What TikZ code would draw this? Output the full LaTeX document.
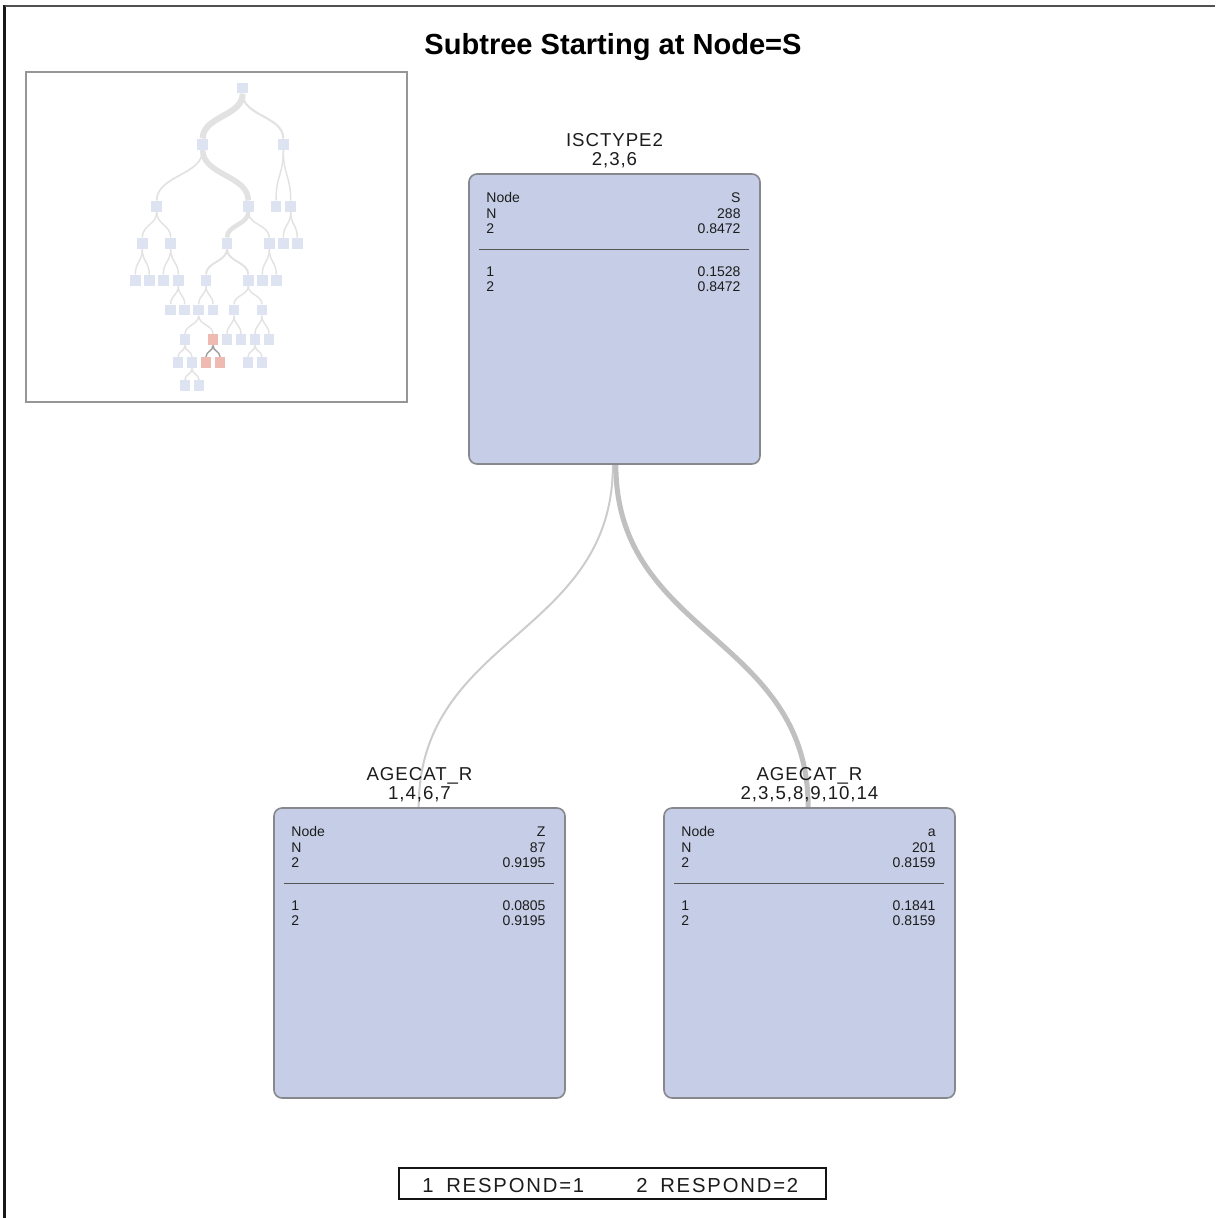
\documentclass[tikz,border=0pt]{standalone}
\usepackage{fontspec}
\setmainfont{Liberation Sans}
\newfontfamily\headfont[LetterSpace=5]{Liberation Sans}
\newfontfamily\keyfont[LetterSpace=9]{Liberation Sans}
\usetikzlibrary{calc,backgrounds}

\definecolor{boxfill}{RGB}{197,206,230}
\definecolor{boxedge}{RGB}{135,136,142}
\definecolor{linkgray}{RGB}{204,204,204}
\definecolor{linkdark}{RGB}{192,192,192}
\definecolor{minisq}{RGB}{221,227,241}
\definecolor{minired}{RGB}{238,186,178}
\definecolor{minilink}{RGB}{226,226,226}
\definecolor{minidark}{RGB}{160,160,160}
\definecolor{miniframe}{RGB}{150,150,152}
\definecolor{inktext}{RGB}{28,28,28}

\tikzset{
  x=0.75pt, y=-0.75pt,
  sbend/.style={to path={let \p1=(\tikztostart), \p2=(\tikztotarget) in
      .. controls (\x1,{0.5*(\y1+\y2)}) and (\x2,{0.5*(\y1+\y2)}) .. (\tikztotarget)}},
  treebox/.style={draw=boxedge, line width=1.2pt, fill=boxfill, rounded corners=6pt,
      minimum width=218.25pt, minimum height=217.5pt, inner sep=0pt},
  cellL/.style={anchor=base west, inner sep=0pt, text=inktext, font=\fontsize{10.5}{12}\selectfont},
  cellR/.style={anchor=base east, inner sep=0pt, text=inktext, font=\fontsize{10.5}{12}\selectfont},
  splitvar/.style={anchor=base, inner sep=0pt, text=inktext, font=\headfont\fontsize{14}{16}\selectfont},
  keytext/.style={anchor=base west, inner sep=0pt, text=inktext, font=\keyfont\fontsize{15.2}{18}\selectfont},
  rule/.style={draw={rgb,255:red,85;green,85;blue,85}, line width=0.8pt},
  mini/.style={fill=minisq, minimum size=8.2pt, inner sep=0pt},
  minihot/.style={fill=minired, minimum size=8.2pt, inner sep=0pt},
  minilinkstyle/.style={draw=minilink, line width=1.1pt, sbend},
}

% statistics table inside a tree box: #1 box, #2 node id, #3 N, #4 share of 2, #5 share of 1
\newcommand\statpanel[5]{%
  \node[cellL] (#1-k1) at ($(#1.north west)+(18,29.5)$) {Node};
  \node[cellL] (#1-k2) at ($(#1.north west)+(18,45)$) {N};
  \node[cellL] (#1-k3) at ($(#1.north west)+(18,60.5)$) {2};
  \node[cellR] (#1-v1) at ($(#1.north east)+(-20,29.5)$) {#2};
  \node[cellR] (#1-v2) at ($(#1.north east)+(-20,45)$) {#3};
  \node[cellR] (#1-v3) at ($(#1.north east)+(-20,60.5)$) {#4};
  \draw[rule] ($(#1.north west)+(11,76)$) -- ($(#1.north east)+(-12,76)$);
  \node[cellL] (#1-c1) at ($(#1.north west)+(18,103)$) {1};
  \node[cellL] (#1-c2) at ($(#1.north west)+(18,118.5)$) {2};
  \node[cellR] (#1-p1) at ($(#1.north east)+(-20,103)$) {#5};
  \node[cellR] (#1-p2) at ($(#1.north east)+(-20,118.5)$) {#4};
}

\begin{document}
\begin{tikzpicture}
\path[use as bounding box] (0,0) rectangle (1215,1218);

% page frame
\draw[line width=1.9pt, draw={rgb,255:red,25;green,25;blue,25}] (4.6,1218) -- (4.6,4.8);
\draw[line width=1.6pt, draw={rgb,255:red,80;green,80;blue,80}] (4.6,5.6) -- (1215,5.6);

% title
\node[anchor=base, inner sep=0pt, text=black, font=\bfseries\fontsize{21.8}{26}\selectfont]
  (title) at (613,54) {Subtree Starting at Node=S};

% overview of the whole tree
\draw[draw=miniframe, line width=1.4pt] (26,72) rectangle (407,402);

\node[mini] (m) at (242.7,88) {};
\node[mini] (ma) at (202.7,144.3) {};
\node[mini] (mb) at (283.3,144.3) {};
\node[mini] (maa) at (156.7,206.3) {};
\node[mini] (mab) at (248.3,206.3) {};
\node[mini] (mba) at (276,206.3) {};
\node[mini] (mbb) at (290.7,206.3) {};
\node[mini] (maaa) at (142.3,243.3) {};
\node[mini] (maab) at (170.7,243.3) {};
\node[mini] (maba) at (227,243.3) {};
\node[mini] (mabb) at (269.3,243.3) {};
\node[mini] (mbba) at (283.3,243.3) {};
\node[mini] (mbbb) at (297.3,243.3) {};
\node[mini] (maaaa) at (135.3,280.3) {};
\node[mini] (maaab) at (149.3,280.3) {};
\node[mini] (maaba) at (163.3,280.3) {};
\node[mini] (maabb) at (178.3,280.3) {};
\node[mini] (mabaa) at (206,280.3) {};
\node[mini] (mabab) at (248.3,280.3) {};
\node[mini] (mabba) at (262.3,280.3) {};
\node[mini] (mabbb) at (276.3,280.3) {};
\node[mini] (maabba) at (170.7,310) {};
\node[mini] (maabbb) at (184.7,310) {};
\node[mini] (mabaaa) at (198.7,310) {};
\node[mini] (mabaab) at (213,310) {};
\node[mini] (mababa) at (234,310) {};
\node[mini] (mababb) at (262,310) {};
\node[mini] (mabaaaa) at (185,339.7) {};
\node[minihot] (mabaaab) at (213,339.7) {};
\node[mini] (mababaa) at (227,339.7) {};
\node[mini] (mababab) at (241,339.7) {};
\node[mini] (mababba) at (255,339.7) {};
\node[mini] (mababbb) at (269,339.7) {};
\node[mini] (mabaaaaa) at (178,362.7) {};
\node[mini] (mabaaaab) at (192,362.7) {};
\node[minihot] (mabaaaba) at (206,362.7) {};
\node[minihot] (mabaaabb) at (220,362.7) {};
\node[mini] (mababbaa) at (248,362.7) {};
\node[mini] (mababbab) at (262,362.7) {};
\node[mini] (mabaaaaba) at (185,385.7) {};
\node[mini] (mabaaaabb) at (199,385.7) {};

\begin{scope}[on background layer]
  \draw[minilinkstyle, line width=4.6pt] (m.south) to (ma.north);
  \draw[minilinkstyle, line width=1.6pt] (m.south) to (mb.north);
  \draw[minilinkstyle, line width=1.3pt] (ma.south) to (maa.north);
  \draw[minilinkstyle, line width=4.2pt] (ma.south) to (mab.north);
  \draw[minilinkstyle] (mb.south) to (mba.north);
  \draw[minilinkstyle] (mb.south) to (mbb.north);
  \draw[minilinkstyle] (maa.south) to (maaa.north);
  \draw[minilinkstyle] (maa.south) to (maab.north);
  \draw[minilinkstyle, line width=3.4pt] (mab.south) to (maba.north);
  \draw[minilinkstyle] (mab.south) to (mabb.north);
  \draw[minilinkstyle] (mbb.south) to (mbba.north);
  \draw[minilinkstyle] (mbb.south) to (mbbb.north);
  \draw[minilinkstyle] (maaa.south) to (maaaa.north);
  \draw[minilinkstyle] (maaa.south) to (maaab.north);
  \draw[minilinkstyle] (maab.south) to (maaba.north);
  \draw[minilinkstyle] (maab.south) to (maabb.north);
  \draw[minilinkstyle, line width=1.5pt] (maba.south) to (mabaa.north);
  \draw[minilinkstyle, line width=1.5pt] (maba.south) to (mabab.north);
  \draw[minilinkstyle] (mabb.south) to (mabba.north);
  \draw[minilinkstyle] (mabb.south) to (mabbb.north);
  \draw[minilinkstyle] (maabb.south) to (maabba.north);
  \draw[minilinkstyle] (maabb.south) to (maabbb.north);
  \draw[minilinkstyle] (mabaa.south) to (mabaaa.north);
  \draw[minilinkstyle] (mabaa.south) to (mabaab.north);
  \draw[minilinkstyle] (mabab.south) to (mababa.north);
  \draw[minilinkstyle] (mabab.south) to (mababb.north);
  \draw[minilinkstyle] (mabaaa.south) to (mabaaaa.north);
  \draw[minilinkstyle] (mabaaa.south) to (mabaaab.north);
  \draw[minilinkstyle] (mababa.south) to (mababaa.north);
  \draw[minilinkstyle] (mababa.south) to (mababab.north);
  \draw[minilinkstyle] (mababb.south) to (mababba.north);
  \draw[minilinkstyle] (mababb.south) to (mababbb.north);
  \draw[minilinkstyle] (mabaaaa.south) to (mabaaaaa.north);
  \draw[minilinkstyle] (mabaaaa.south) to (mabaaaab.north);
  \draw[minilinkstyle, draw=minidark] (mabaaab.south) to (mabaaaba.north);
  \draw[minilinkstyle, draw=minidark] (mabaaab.south) to (mabaaabb.north);
  \draw[minilinkstyle] (mababba.south) to (mababbaa.north);
  \draw[minilinkstyle] (mababba.south) to (mababbab.north);
  \draw[minilinkstyle] (mabaaaab.south) to (mabaaaaba.north);
  \draw[minilinkstyle] (mabaaaab.south) to (mabaaaabb.north);
\end{scope}

% subtree boxes
\node[treebox] (top) at (614.5,319) {};
\node[treebox] (lc) at (419.5,953) {};
\node[treebox] (rc) at (809.5,953) {};

\node[splitvar] (topvar) at ($(top.north)+(0,-26.8)$) {ISCTYPE2};
\node[splitvar] (topval) at ($(top.north)+(0,-7.5)$) {2,3,6};
\node[splitvar] (lcvar) at ($(lc.north)+(0,-26.8)$) {AGECAT\_R};
\node[splitvar] (lcval) at ($(lc.north)+(0,-7.5)$) {1,4,6,7};
\node[splitvar] (rcvar) at ($(rc.north)+(0,-26.8)$) {AGECAT\_R};
\node[splitvar] (rcval) at ($(rc.north)+(0,-7.5)$) {2,3,5,8,9,10,14};

\statpanel{top}{S}{288}{0.8472}{0.1528}
\statpanel{lc}{Z}{87}{0.9195}{0.0805}
\statpanel{rc}{a}{201}{0.8159}{0.1841}

% branches of the subtree
\begin{scope}[on background layer]
  \draw[draw=linkgray, line width=1.5pt, sbend] ([xshift=-1.2pt]top.south) to ([xshift=-0.6pt]lc.north);
  \draw[draw=linkdark, line width=3.8pt, sbend] ([xshift=1pt]top.south) to ([xshift=-1pt]rc.north);
\end{scope}

% legend
\draw[line width=1.4pt, draw={rgb,255:red,20;green,20;blue,20}] (399,1168) rectangle (826,1199);
\node[keytext] (key1) at (422,1192) {1};
\node[keytext] (key1t) at (446,1192) {RESPOND=1};
\node[keytext] (key2) at (636,1192) {2};
\node[keytext] (key2t) at (660,1192) {RESPOND=2};
\end{tikzpicture}
\end{document}
